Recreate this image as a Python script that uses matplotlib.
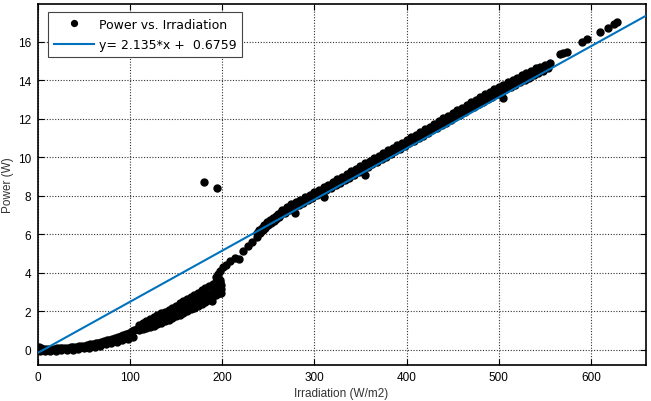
import matplotlib
matplotlib.use('Agg')
import matplotlib.pyplot as plt
import numpy as np

# low irradiance curve (0 - 110 W/m2)
curve_x = [0, 2, 4, 6, 9, 12, 15, 18, 21, 24, 27, 30, 33, 36, 39, 42, 45, 48, 51, 54,
           57, 60, 63, 66, 69, 72, 75, 78, 81, 84, 87, 90, 93, 96, 99, 102, 105, 108]
curve_y = [0.00, 0.14, 0.08, 0.03, 0.02, 0.03, 0.04, 0.05, 0.06, 0.07, 0.08, 0.09, 0.10, 0.12,
           0.13, 0.15, 0.17, 0.19, 0.21, 0.24, 0.27, 0.30, 0.33, 0.36, 0.40, 0.44, 0.48, 0.52,
           0.57, 0.62, 0.67, 0.72, 0.77, 0.83, 0.89, 0.95, 1.01, 1.07]
curve2_x = [3, 8, 14, 20, 26, 32, 38, 44, 50, 56, 62, 68, 74, 80, 86, 92, 98, 104]
curve2_y = [-0.08, -0.07, -0.06, -0.05, -0.04, -0.02, 0.00, 0.03, 0.07, 0.11, 0.16, 0.21,
            0.27, 0.33, 0.40, 0.48, 0.56, 0.66]

# wide band 110 - 200 W/m2
band_x = [110, 114, 118, 122, 126, 130, 134, 138, 142, 146, 150, 154, 158, 162, 166, 170,
          174, 178, 182, 186, 190, 194, 198]
band_hi_y = [1.30, 1.39, 1.48, 1.58, 1.68, 1.78, 1.88, 1.98, 2.08, 2.18, 2.29, 2.40, 2.51,
             2.62, 2.73, 2.85, 2.97, 3.09, 3.21, 3.32, 3.43, 3.54, 3.64]
band_mid_y = [1.14, 1.21, 1.29, 1.37, 1.45, 1.54, 1.63, 1.72, 1.81, 1.90, 2.00, 2.10, 2.19,
              2.29, 2.39, 2.49, 2.60, 2.70, 2.81, 2.91, 3.02, 3.12, 3.24]
band_lo_y = [1.00, 1.05, 1.11, 1.18, 1.25, 1.32, 1.40, 1.48, 1.56, 1.64, 1.73, 1.82, 1.91,
             2.00, 2.09, 2.18, 2.28, 2.38, 2.48, 2.58, 2.78, 2.86, 2.93]
column_x = [196, 197, 199, 199, 199, 198, 193, 196]
column_y = [3.05, 3.25, 2.95, 3.15, 3.35, 3.50, 3.80, 3.95]

# transition 200 - 265 W/m2
trans_x = [197.8, 201, 204.3, 208.7, 214, 218.8, 223, 227.8, 232, 237.6, 238.3,
           240, 243, 246, 249, 252, 255, 258, 261, 264,
           241, 244, 247, 250, 253, 256, 259, 262]
trans_y = [4.11, 4.30, 4.40, 4.63, 4.77, 4.70, 5.15, 5.37, 5.61, 5.84, 6.06,
           6.20, 6.35, 6.50, 6.62, 6.74, 6.85, 6.95, 7.05, 7.15,
           6.05, 6.20, 6.33, 6.46, 6.58, 6.70, 6.80, 6.90]

# linear region 265 - 555 W/m2
lin_hi_x = [265, 270, 275, 280, 285, 290, 295, 300, 305, 310, 315, 320, 325, 330, 335, 340,
            345, 350, 355, 360, 365, 370, 375, 380, 385, 390, 395, 400, 405, 410, 415, 420,
            425, 430, 435, 440, 445, 450, 455, 460, 465, 470, 475, 480, 485, 490, 495, 500,
            505, 510, 515, 520, 525, 530, 535, 540, 545, 550, 555]
lin_hi_y = [7.28, 7.42, 7.55, 7.68, 7.80, 7.93, 8.06, 8.18, 8.32, 8.45, 8.58, 8.72, 8.86,
            8.99, 9.13, 9.27, 9.40, 9.54, 9.68, 9.81, 9.95, 10.09, 10.22, 10.36, 10.50, 10.63,
            10.77, 10.91, 11.05, 11.18, 11.32, 11.46, 11.60, 11.74, 11.88, 12.02, 12.16, 12.30,
            12.44, 12.58, 12.72, 12.86, 13.00, 13.14, 13.27, 13.40, 13.53, 13.66, 13.78, 13.90,
            14.02, 14.14, 14.26, 14.38, 14.50, 14.62, 14.72, 14.82, 14.90]
lin_lo_x = [263, 268, 273, 278, 283, 288, 293, 298, 303, 308, 313, 318, 323, 328, 333, 338,
            343, 348, 353, 358, 363, 368, 373, 378, 383, 388, 393, 398, 403, 408, 413, 418,
            423, 428, 433, 438, 443, 448, 453, 458, 463, 468, 473, 478, 483, 488, 493, 498,
            503, 508, 513, 518, 523, 528, 533, 538, 543, 548, 553]
lin_lo_y = [7.00, 7.12, 7.24, 7.37, 7.50, 7.63, 7.76, 7.88, 8.02, 8.15, 8.28, 8.42, 8.55,
            8.68, 8.82, 8.95, 9.09, 9.22, 9.36, 9.50, 9.63, 9.77, 9.90, 10.04, 10.17, 10.31,
            10.45, 10.58, 10.72, 10.85, 10.99, 11.12, 11.26, 11.40, 11.53, 11.67, 11.81, 11.95,
            12.09, 12.22, 12.36, 12.50, 12.63, 12.77, 12.90, 13.03, 13.16, 13.29, 13.41, 13.53,
            13.66, 13.78, 13.90, 14.02, 14.14, 14.26, 14.38, 14.50, 14.62]

# sparse high irradiance points and outliers
top_x = [566, 570, 574, 590, 596, 610, 618, 625, 628]
top_y = [15.35, 15.42, 15.50, 16.00, 16.15, 16.50, 16.70, 16.94, 17.05]
out_x = [180, 195, 189, 279, 310, 355, 505]
out_y = [8.74, 8.43, 2.55, 7.13, 7.96, 9.08, 13.10]

# fitted line end points
fit_x = [0, 659]
fit_y = [-0.18, 17.35]

x_all = np.concatenate([curve_x, curve2_x, band_x, band_x, band_x, column_x, trans_x,
                        lin_hi_x, lin_lo_x, top_x, out_x])
y_all = np.concatenate([curve_y, curve2_y, band_hi_y, band_mid_y, band_lo_y, column_y,
                        trans_y, lin_hi_y, lin_lo_y, top_y, out_y])

fig = plt.figure(figsize=(6.51, 4.02), dpi=100)
ax = fig.add_axes([37.5 / 651, 36 / 402, 608 / 651, 361.5 / 402])

ax.plot(x_all, y_all, 'o', color='k', ms=5, label='Power vs. Irradiation', zorder=3)
ax.plot(fit_x, fit_y, '-', color='#0072BD', lw=1.5, label='y= 2.135*x +  0.6759', zorder=4)

ax.set_xlim(0, 659)
ax.set_ylim(-0.8, 18)
ax.set_xticks(np.arange(0, 700, 100))
ax.set_yticks(np.arange(0, 18, 2))

ax.grid(True, color='#333333', linestyle=(0, (1, 1.5)), linewidth=0.8)
ax.set_axisbelow(True)
ax.tick_params(direction='in', top=True, right=True, length=4, width=0.8,
               labelsize=8.5, pad=4.5)
for lab in ax.get_xticklabels() + ax.get_yticklabels():
    lab.set_fontfamily('Liberation Sans')
for sp in ax.spines.values():
    sp.set_linewidth(1.2)

ax.set_xlabel('Irradiation (W/m2)', fontsize=8.5, family='Liberation Sans', color='#333333',
              labelpad=3)
ax.set_ylabel('Power (W)', fontsize=8.5, family='Liberation Sans', color='#333333',
              labelpad=3)

leg = ax.legend(loc='upper left', bbox_to_anchor=(0.0173, 0.9765), borderaxespad=0,
                numpoints=1, handlelength=3.2, fancybox=False, framealpha=1,
                edgecolor='#444444', prop={'family': 'DejaVu Sans', 'size': 9},
                borderpad=0.45, labelspacing=0.6, handletextpad=0.4)
leg.get_frame().set_linewidth(0.8)
leg.legend_handles[0].set_markersize(4.2)

fig.savefig('out.png', dpi=100)
